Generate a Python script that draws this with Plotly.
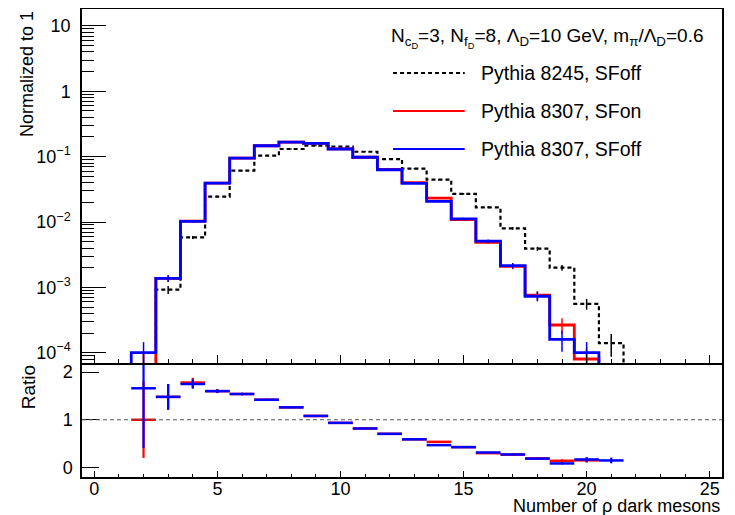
import plotly.graph_objects as go

# ---------------- data ----------------
bin_centers = list(range(0, 26))            # number of rho dark mesons (bins 0..25)
bin_edges = [c - 0.5 for c in bin_centers] + [25.5]

black_8245 = [0, 0, 6e-5, 9.2e-4, 5.8e-3, 0.0245, 0.061, 0.104, 0.131, 0.147, 0.142, 0.119,
              0.092, 0.0655, 0.0445, 0.027, 0.0168, 0.008, 0.0039, 0.002, 5.6e-4, 1.4e-4,
              0, 0, 0, 0]
black_err = [0, 0, 3.5e-5, 1.3e-4, 3.3e-4, 7e-4, 1.1e-3, 1.4e-3, 1.6e-3, 1.7e-3, 1.7e-3, 1.5e-3,
             1.4e-3, 1.1e-3, 9.4e-4, 7.3e-4, 5.8e-4, 4e-4, 2.8e-4, 2e-4, 1.05e-4, 5.3e-5,
             0, 0, 0, 0]

red_8307_on = [0, 0, 6e-5, 1.37e-3, 1.03e-2, 0.0394, 0.095, 0.147, 0.167, 0.16, 0.132, 0.098,
               0.064, 0.040, 0.0232, 0.0109, 0.0049, 0.0021, 7.6e-4, 2.65e-4, 8e-5, 0,
               0, 0, 0, 0]
red_err = [0, 0, 3.5e-5, 1.6e-4, 4.5e-4, 9e-4, 1.4e-3, 1.7e-3, 1.8e-3, 1.8e-3, 1.6e-3, 1.4e-3,
           1.1e-3, 9e-4, 6.8e-4, 4.7e-4, 3.1e-4, 2.1e-4, 1.2e-4, 7e-5, 4e-5, 0,
           0, 0, 0, 0]

blue_8307_off = [0, 0, 1.0e-4, 1.37e-3, 1.02e-2, 0.0394, 0.095, 0.147, 0.167, 0.16, 0.131, 0.098,
                 0.063, 0.039, 0.0207, 0.0112, 0.0051, 0.00215, 7.3e-4, 1.6e-4, 1.0e-4, 2e-5,
                 0, 0, 0, 0]
blue_err = [0, 0, 4.5e-5, 1.6e-4, 4.5e-4, 9e-4, 1.4e-3, 1.7e-3, 1.8e-3, 1.8e-3, 1.6e-3, 1.4e-3,
            1.1e-3, 9e-4, 6.4e-4, 4.7e-4, 3.2e-4, 2.1e-4, 1.2e-4, 5.7e-5, 4.5e-5, 2e-5,
            0, 0, 0, 0]

ratio_x_blue = [2, 3, 4, 5, 6, 7, 8, 9, 10, 11, 12, 13, 14, 15, 16, 17, 18, 19, 20, 21]
ratio_blue = [1.66, 1.48, 1.75, 1.60, 1.54, 1.42, 1.26, 1.08, 0.935, 0.817, 0.705, 0.59,
              0.468, 0.426, 0.314, 0.272, 0.185, 0.084, 0.168, 0.147]
ratio_blue_err = [1.25, 0.27, 0.10, 0.04, 0.025, 0.02, 0.015, 0.012, 0.01, 0.01, 0.01, 0.01,
                  0.015, 0.012, 0.012, 0.015, 0.02, 0.02, 0.05, 0.06]

ratio_x_red = [2, 3, 4, 5, 6, 7, 8, 9, 10, 11, 12, 13, 14, 15, 16, 17, 18, 19, 20]
ratio_red = [1.0, 1.48, 1.78, 1.60, 1.54, 1.42, 1.26, 1.08, 0.935, 0.817, 0.705, 0.59,
             0.537, 0.426, 0.30, 0.27, 0.19, 0.14, 0.15]
ratio_red_err = [0.8, 0.27, 0.10, 0.04, 0.025, 0.02, 0.015, 0.012, 0.01, 0.01, 0.01, 0.01,
                 0.015, 0.012, 0.012, 0.015, 0.02, 0.03, 0.05]

y_tick_vals = [1e-4, 1e-3, 1e-2, 1e-1, 1, 10]
y_tick_text = ["10<sup>\u22124</sup>", "10<sup>\u22123</sup>", "10<sup>\u22122</sup>",
               "10<sup>\u22121</sup>", "1", "10"]

series_names = ["Pythia 8245, SFoff", "Pythia 8307, SFon", "Pythia 8307, SFoff"]
series_colors = ["black", "#ff0000", "#0000ff"]
header_text = ("N<sub>c<sub>D</sub></sub>=3, N<sub>f<sub>D</sub></sub>=8, "
               "\u039b<sub>D</sub>=10 GeV, m<sub>\u03c0</sub>/\u039b<sub>D</sub>=0.6")

FONT = "Liberation Sans, Arial, Helvetica, sans-serif"
FLOOR = 1e-9  # empty bins drawn below the visible range

fig = go.Figure()

hist_series = [black_8245, red_8307_on, blue_8307_off]
err_series = [black_err, red_err, blue_err]
dashes = ["4px,3px", "solid", "solid"]
widths = [2.2, 2.8, 2.8]

for vals, errs, col, dsh, w in zip(hist_series, err_series, series_colors, dashes, widths):
    yv = [v if v > 0 else FLOOR for v in vals]
    fig.add_trace(go.Scatter(
        x=bin_edges, y=yv + [yv[-1]], mode="lines", line_shape="hv",
        line=dict(color=col, width=w, dash=dsh),
        xaxis="x2", yaxis="y2", showlegend=False, hoverinfo="skip"))
    xs = [c for c, v in zip(bin_centers, vals) if v > 0]
    ys = [v for v in vals if v > 0]
    es = [e for e, v in zip(errs, vals) if v > 0]
    fig.add_trace(go.Scatter(
        x=xs, y=ys, mode="markers", marker=dict(size=1, color=col),
        error_y=dict(type="data", array=es, color=col, thickness=1.5, width=0),
        xaxis="x2", yaxis="y2", showlegend=False, hoverinfo="skip"))

# ratio panel
for rx, ry, re, col in [(ratio_x_red, ratio_red, ratio_red_err, series_colors[1]),
                        (ratio_x_blue, ratio_blue, ratio_blue_err, series_colors[2])]:
    fig.add_trace(go.Scatter(
        x=rx, y=ry, mode="markers", marker=dict(size=1, color=col),
        error_x=dict(type="constant", value=0.5, color=col, thickness=2.5, width=0),
        error_y=dict(type="data", array=re, color=col, thickness=2.2, width=0),
        xaxis="x", yaxis="y", showlegend=False, hoverinfo="skip", cliponaxis=True))

split = 114 / 468
base = dict(showline=True, linecolor="black", linewidth=1.5, automargin=False,
            ticks="inside", tickcolor="black", showgrid=False, zeroline=False,
            tickfont=dict(family=FONT, size=18, color="black"))

minor_log_vals = [m * 10 ** e for e in range(-5, 2) for m in range(2, 10)]

# page body has an 8px default margin, so the figure is offset by (8, 8)
fig.update_layout(
    width=735, height=515,
    margin=dict(l=74, r=21, t=1, b=46),
    paper_bgcolor="white", plot_bgcolor="white",
    font=dict(family=FONT, size=18, color="black"),
    xaxis=dict(domain=[0, 1], anchor="y", range=[-0.5, 25.5], mirror=False,
               tickmode="array", tickvals=[0, 5, 10, 15, 20, 25], ticklen=6,
               ticklabelstandoff=-5,
               minor=dict(ticks="inside", ticklen=3, tickmode="linear", tick0=0, dtick=1,
                          tickcolor="black"),
               **base),
    yaxis=dict(domain=[0, split], anchor="x", range=[-0.2, 2.19], mirror=True,
               tickmode="array", tickvals=[0, 1, 2], ticklen=17, ticklabelstandoff=4,
               **base),
    xaxis2=dict(domain=[0, 1], anchor="y2", range=[-0.5, 25.5], matches="x", mirror=True,
                showticklabels=False,
                tickmode="array", tickvals=[0, 5, 10, 15, 20, 25], ticklen=8,
                minor=dict(ticks="inside", ticklen=4, tickmode="linear", tick0=0, dtick=1,
                           tickcolor="black"),
                **base),
    yaxis2=dict(domain=[split, 1], anchor="x2", type="log", range=[-4.158, 1.26], mirror=True,
                tickmode="array", tickvals=y_tick_vals, ticktext=y_tick_text,
                ticklen=24, ticklabelstandoff=6,
                minor=dict(ticks="inside", ticklen=12, tickmode="array",
                           tickvals=minor_log_vals, tickcolor="black"),
                **base),
)

# ratio = 1 reference line
fig.add_shape(type="line", xref="x", yref="y", x0=-0.5, x1=25.5, y0=1, y1=1,
              line=dict(color="#555555", width=1.2, dash="4px,3px"))

# axis titles
fig.add_annotation(text="Normalized to 1", xref="paper", yref="paper",
                   x=-0.086, y=1.0, xanchor="center", yanchor="top", textangle=-90,
                   showarrow=False, font=dict(family=FONT, size=18, color="black"))
fig.add_annotation(text="Ratio", xref="paper", yref="paper",
                   x=-0.084, y=split, xanchor="center", yanchor="top", textangle=-90,
                   showarrow=False, font=dict(family=FONT, size=19, color="black"))
fig.add_annotation(text="Number of \u03c1 dark mesons", xref="paper", yref="paper",
                   x=1.0, y=-0.063, xanchor="right", yanchor="middle",
                   showarrow=False, font=dict(family=FONT, size=18, color="black"))

# legend (drawn by hand, ROOT style)
fig.add_annotation(text=header_text, xref="paper", yref="paper",
                   x=0.974, y=0.938, xanchor="right", yanchor="middle",
                   showarrow=False, font=dict(family=FONT, size=19, color="black"))
legend_rows_y = [0.863, 0.782, 0.701]
for name, col, dsh, ry in zip(series_names, series_colors, dashes, legend_rows_y):
    fig.add_shape(type="line", xref="paper", yref="paper", x0=0.486, x1=0.598, y0=ry, y1=ry,
                  line=dict(color=col, width=2, dash=dsh))
    fig.add_annotation(text=name, xref="paper", yref="paper", x=0.620, y=ry,
                       xanchor="left", yanchor="middle", showarrow=False,
                       font=dict(family=FONT, size=19.5, color="black"))

fig.write_html("out.html")
